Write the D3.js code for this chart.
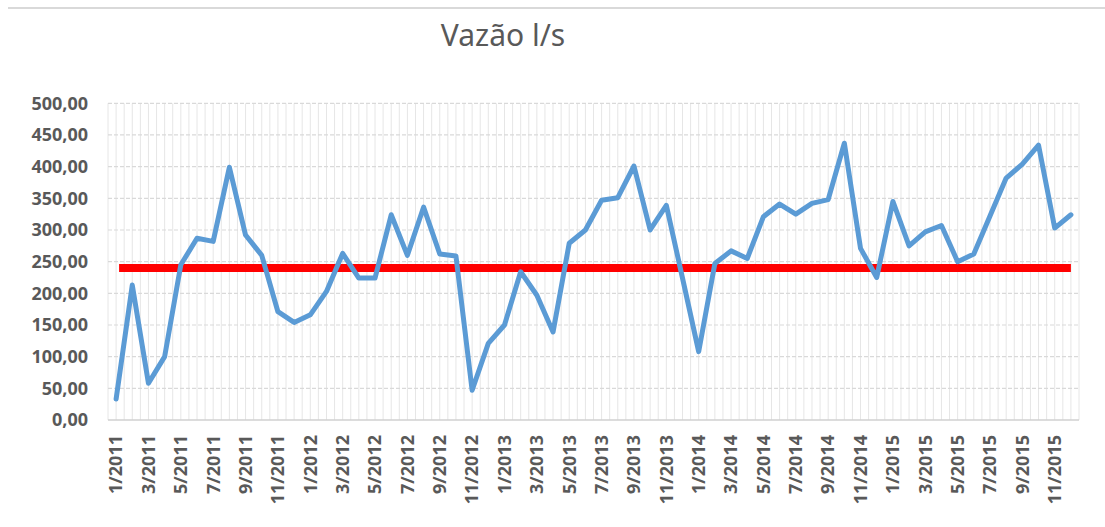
<!DOCTYPE html>
<html>
<head>
<meta charset="utf-8">
<script src="https://cdn.jsdelivr.net/npm/d3@7"></script>
<style>
  body { margin: 0; background: #fff; }
  text { font-family: "Noto Sans", "Open Sans", sans-serif; fill: #595959; }
</style>
</head>
<body>
<div id="chart"></div>
<script>
// meses (categorias)
var meses = [
  "1/2011","2/2011","3/2011","4/2011","5/2011","6/2011","7/2011","8/2011","9/2011","10/2011","11/2011","12/2011",
  "1/2012","2/2012","3/2012","4/2012","5/2012","6/2012","7/2012","8/2012","9/2012","10/2012","11/2012","12/2012",
  "1/2013","2/2013","3/2013","4/2013","5/2013","6/2013","7/2013","8/2013","9/2013","10/2013","11/2013","12/2013",
  "1/2014","2/2014","3/2014","4/2014","5/2014","6/2014","7/2014","8/2014","9/2014","10/2014","11/2014","12/2014",
  "1/2015","2/2015","3/2015","4/2015","5/2015","6/2015","7/2015","8/2015","9/2015","10/2015","11/2015","12/2015"
];

// vazão mensal l/s
var vazao = [
  33, 213, 58, 100, 245, 287, 282, 399, 292, 260, 171, 154,
  166, 203, 263, 224, 224, 324, 260, 336, 262, 259, 47, 121,
  150, 234, 197, 139, 279, 300, 347, 351, 401, 300, 339, 224,
  108, 247, 267, 255, 321, 341, 325, 342, 348, 437, 271, 225,
  345, 275, 297, 307, 250, 262, 322, 382, 404, 434, 303, 324
];

// linha de referência
var limite = 240;

var yTicks = [0, 50, 100, 150, 200, 250, 300, 350, 400, 450, 500];

var W = 1105, H = 527;
var plot = {left: 108, right: 1079, top: 103.3, bottom: 420};

var svg = d3.select("#chart").append("svg")
    .attr("width", W)
    .attr("height", H);

// linha cinza no topo
svg.append("line")
    .attr("x1", 8).attr("x2", W)
    .attr("y1", 8).attr("y2", 8)
    .style("stroke", "#d9d9d9")
    .style("stroke-width", 2);

var x = d3.scaleBand().domain(meses).range([plot.left, plot.right]);
var y = d3.scaleLinear().domain([0, 500]).range([plot.bottom, plot.top]);

// gridlines verticais (a cada meia categoria)
var half = [];
for (var i = 0; i <= meses.length * 2; i++) half.push(plot.left + i * x.bandwidth() / 2);
svg.append("g").selectAll("line")
    .data(half)
    .enter().append("line")
    .attr("x1", function(d) { return d; })
    .attr("x2", function(d) { return d; })
    .attr("y1", plot.top)
    .attr("y2", plot.bottom)
    .style("stroke", "#e6e6e6")
    .style("stroke-width", 1);

// gridlines horizontais
svg.append("g").selectAll("line")
    .data(yTicks.slice(1))
    .enter().append("line")
    .attr("x1", plot.left)
    .attr("x2", plot.right)
    .attr("y1", function(d) { return y(d); })
    .attr("y2", function(d) { return y(d); })
    .style("stroke", "#d9d9d9")
    .style("stroke-width", 1.2)
    .style("stroke-dasharray", "4,2");

// eixo x
svg.append("line")
    .attr("x1", plot.left).attr("x2", plot.right)
    .attr("y1", plot.bottom).attr("y2", plot.bottom)
    .style("stroke", "#d0d0d0")
    .style("stroke-width", 1.5);

// rótulos eixo y
var fmt = function(d) { return d3.format(".2f")(d).replace(".", ","); };
svg.append("g").selectAll("text")
    .data(yTicks)
    .enter().append("text")
    .attr("x", 88)
    .attr("y", function(d) { return y(d); })
    .attr("dy", "0.35em")
    .style("text-anchor", "end")
    .style("font-size", "18px")
    .style("font-weight", "bold")
    .text(fmt);

// rótulos eixo x (a cada 2 meses)
svg.append("g").selectAll("text")
    .data(meses.filter(function(d, i) { return i % 2 === 0; }))
    .enter().append("text")
    .attr("transform", function(d) {
        return "translate(" + (x(d) + x.bandwidth() / 2) + ",435) rotate(-90)";
    })
    .attr("dy", "0.35em")
    .style("text-anchor", "end")
    .style("font-size", "18px")
    .style("font-weight", "bold")
    .text(function(d) { return d; });

// linha de referência vermelha
svg.append("line")
    .attr("x1", x(meses[0]) + x.bandwidth() / 2 + 3)
    .attr("x2", x(meses[meses.length - 1]) + x.bandwidth() / 2)
    .attr("y1", y(limite))
    .attr("y2", y(limite))
    .style("stroke", "#ff0000")
    .style("stroke-width", 8);

// série vazão
var line = d3.line()
    .x(function(d, i) { return x(meses[i]) + x.bandwidth() / 2; })
    .y(function(d) { return y(d); });

svg.append("path")
    .datum(vazao)
    .attr("d", line)
    .style("fill", "none")
    .style("stroke", "#5b9bd5")
    .style("stroke-width", 5)
    .style("stroke-linejoin", "round")
    .style("stroke-linecap", "round");

// título
svg.append("text")
    .attr("x", 503)
    .attr("y", 46)
    .style("text-anchor", "middle")
    .style("font-size", "30px")
    .text("Vazão l/s");
</script>
</body>
</html>
